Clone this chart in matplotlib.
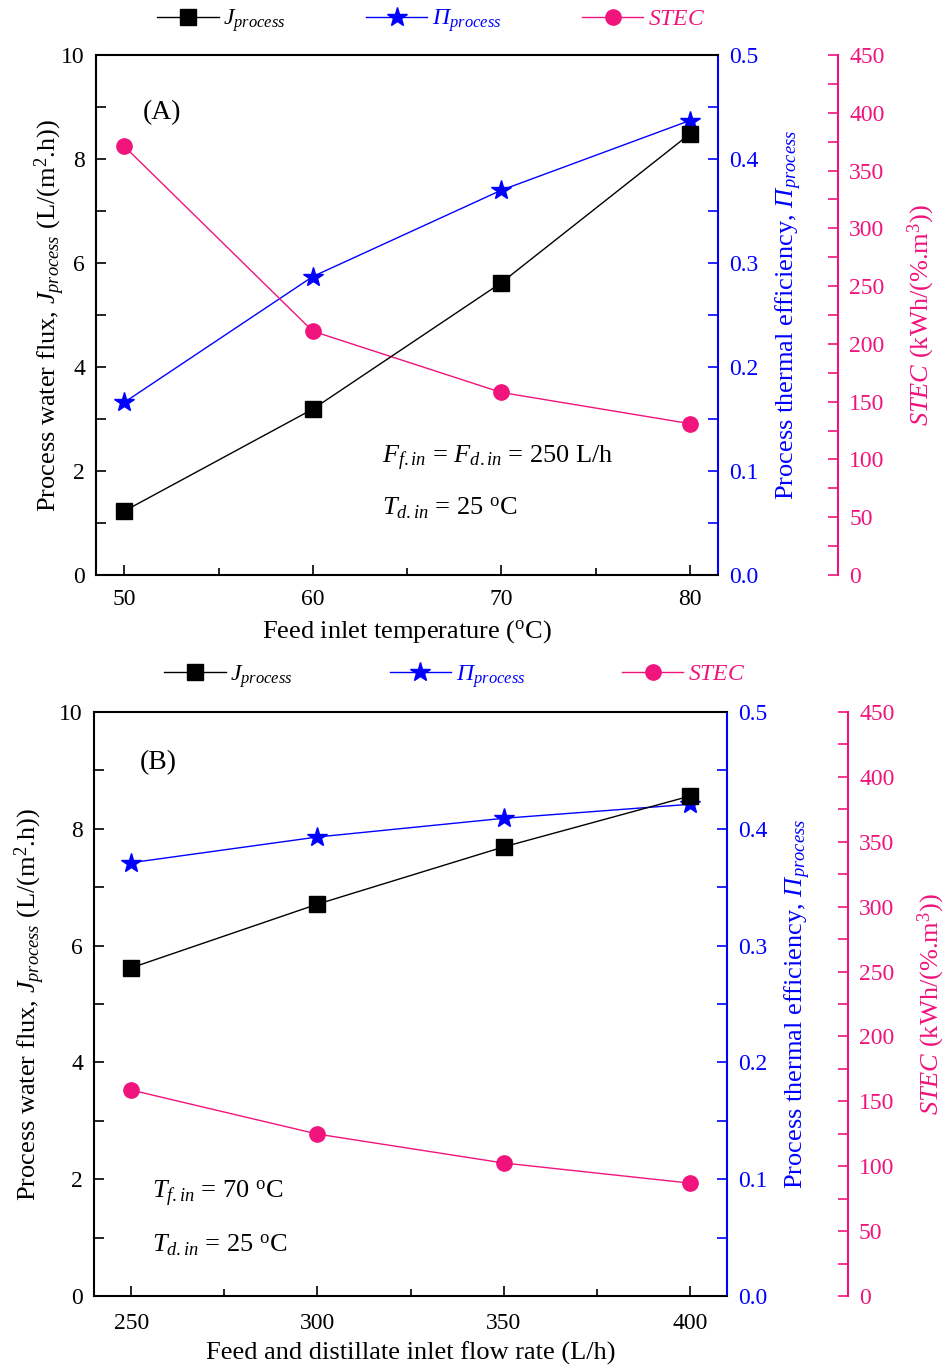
import numpy as np
import matplotlib.pyplot as plt
from matplotlib.ticker import MultipleLocator

SERIF = 'Liberation Serif'
plt.rcParams['font.family'] = SERIF
plt.rcParams['mathtext.fontset'] = 'custom'
plt.rcParams['mathtext.rm'] = SERIF
plt.rcParams['mathtext.it'] = SERIF + ':italic'
plt.rcParams['mathtext.cal'] = SERIF + ':italic'  # italic capital Pi

# Panel A: feed inlet temperature
temp = [50, 60, 70, 80]
j_temp = [1.23, 3.19, 5.62, 8.48]
eff_temp = [0.166, 0.287, 0.370, 0.437]
stec_temp = [371, 211, 158, 131]

# Panel B: feed and distillate inlet flow rate
flow = [250, 300, 350, 400]
j_flow = [5.62, 6.71, 7.69, 8.56]
eff_flow = [0.371, 0.393, 0.409, 0.421]
stec_flow = [158.7, 124.8, 102.5, 87.0]

BLUE = '#0000ff'
PINK = '#f0147c'
TICK_FS = 17
LAB_FS = 19

fig = plt.figure(figsize=(9.47, 13.69), dpi=100)


def panel(rect, x, j, eff, stec, xlim, xmajor, xlabel, tag, tagpos,
          notes, legpos, spine_off, xpad, ylpad, colsp):
    ax = fig.add_axes(rect)
    ax2 = ax.twinx()
    ax3 = ax.twinx()

    l1, = ax.plot(x, j, color='black', lw=1, marker='s', ms=11, zorder=3)
    l2, = ax2.plot(x, eff, color=BLUE, lw=1, marker='*', ms=15, zorder=3)
    l3, = ax3.plot(x, stec, color=PINK, lw=1, marker='o', ms=11, zorder=3)

    ax.set_xlim(*xlim)
    ax.set_ylim(0, 10)
    ax2.set_ylim(0, 0.5)
    ax3.set_ylim(0, 450)

    ax.xaxis.set_major_locator(MultipleLocator(xmajor))
    ax.xaxis.set_minor_locator(MultipleLocator(xmajor / 2))
    ax.yaxis.set_major_locator(MultipleLocator(2))
    ax.yaxis.set_minor_locator(MultipleLocator(1))
    ax2.yaxis.set_major_locator(MultipleLocator(0.1))
    ax2.yaxis.set_minor_locator(MultipleLocator(0.05))
    ax2.yaxis.set_major_formatter(plt.FormatStrFormatter('%.1f'))
    ax3.yaxis.set_major_locator(MultipleLocator(50))
    ax3.yaxis.set_minor_locator(MultipleLocator(25))

    ax.tick_params(which='both', direction='in', labelsize=TICK_FS,
                   width=1.2, labelfontfamily=SERIF)
    ax.tick_params(which='major', length=7)
    ax.tick_params(which='minor', length=5)
    ax.tick_params(axis='y', which='both', length=7, pad=8)
    ax.tick_params(axis='x', pad=xpad)
    for a, c in ((ax2, BLUE), (ax3, PINK)):
        a.tick_params(which='both', direction='in', labelsize=TICK_FS,
                      colors=c, width=1.2, length=7, pad=8,
                      labelfontfamily=SERIF)

    for s in ('left', 'bottom', 'top'):
        ax.spines[s].set_linewidth(1.5)
    ax.spines['right'].set_visible(False)
    for s in ('left', 'bottom', 'top'):
        ax2.spines[s].set_visible(False)
        ax3.spines[s].set_visible(False)
    ax2.spines['right'].set_color(BLUE)
    ax2.spines['right'].set_linewidth(1.5)
    ax3.spines['right'].set_position(('axes', spine_off))
    ax3.spines['right'].set_color(PINK)
    ax3.spines['right'].set_linewidth(1.5)

    ax.set_xlabel(xlabel, fontsize=LAB_FS, labelpad=6)
    ax.set_ylabel(r'Process water flux, $J_{process}$ (L/(m$^{2}$.h))',
                  fontsize=LAB_FS, labelpad=ylpad)
    ax2.set_ylabel(r'Process thermal efficiency, $\mathcal{\Pi}_{process}$',
                   fontsize=LAB_FS, color=BLUE, labelpad=11)
    ax3.set_ylabel(r'$STEC$ (kWh/(%.m$^{3}$))', fontsize=LAB_FS,
                   color=PINK, labelpad=15)

    ax.text(tagpos[0], tagpos[1], tag, transform=ax.transAxes,
            fontsize=20, va='center', ha='left')
    for (tx, ty, s) in notes:
        ax.text(tx, ty, s, transform=ax.transAxes, fontsize=19,
                va='center', ha='left')

    leg = ax.legend([l1, l2, l3],
                    [r'$J_{process}$', r'$\mathcal{\Pi}_{process}$', r'$STEC$'],
                    loc='center', bbox_to_anchor=legpos, ncol=3,
                    frameon=False, fontsize=17, handlelength=2.6,
                    columnspacing=colsp, handletextpad=0.2)
    for t, c in zip(leg.get_texts(), ('black', BLUE, PINK)):
        t.set_color(c)
    ax.set_zorder(ax3.get_zorder() + 1)
    ax.patch.set_visible(False)
    return ax


panel([0.1014, 0.580, 0.6568, 0.3798], temp, j_temp, eff_temp, stec_temp,
      (48.5, 81.5), 10, r'Feed inlet temperature ($^{\mathrm{o}}$C)',
      '(A)', (0.075, 0.89),
      [(0.46, 0.225, r'$F_{f.in}$ = $F_{d.in}$ = 250 L/h'),
       (0.46, 0.129, r'$T_{d.in}$ = 25 $^{\mathrm{o}}$C')],
      (0.539, 1.066), 1.193, 10, -4, 3.4)

panel([0.0993, 0.0533, 0.6684, 0.4266], flow, j_flow, eff_flow, stec_flow,
      (240, 410), 50, 'Feed and distillate inlet flow rate (L/h)',
      '(B)', (0.073, 0.913),
      [(0.092, 0.176, r'$T_{f.in}$ = 70 $^{\mathrm{o}}$C'),
       (0.092, 0.087, r'$T_{d.in}$ = 25 $^{\mathrm{o}}$C')],
      (0.570, 1.061), 1.191, 12, 9, 4.1)

fig.savefig('out.png', dpi=100)
